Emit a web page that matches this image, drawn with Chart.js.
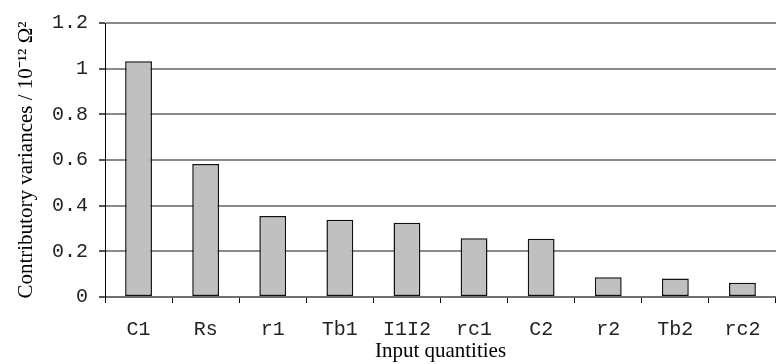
<!DOCTYPE html>
<html>
<head>
<meta charset="utf-8">
<script src="https://cdn.jsdelivr.net/npm/chart.js@4"></script>
<style>
  html, body { margin: 0; padding: 0; background: #fff; }
  #wrap { width: 776px; height: 364px; }
</style>
</head>
<body>
<div id="wrap"><canvas id="barChart"></canvas></div>
<script>
// data
const categories = ['C1', 'Rs', 'r1', 'Tb1', 'I1I2', 'rc1', 'C2', 'r2', 'Tb2', 'rc2'];
const variances = [1.033, 0.583, 0.355, 0.338, 0.325, 0.257, 0.255, 0.087, 0.081, 0.062];
const yTicks = [0, 0.2, 0.4, 0.6, 0.8, 1, 1.2];

const yTitle = 'Contributory variances / 10\u207B\u00B9\u00B2 \u03A9\u00B2';
const xTitle = 'Input quantities';

const monoFont = { family: '"Liberation Mono", "Courier New", monospace', size: 20 };
const serifFont = { family: '"Liberation Serif", "Times New Roman", serif', size: 21 };

//config
const config = {
    type: 'bar',
    data: {
        labels: categories,
        datasets: [{
            data: variances,
            backgroundColor: '#c0c0c0',
            borderColor: '#111',
            borderWidth: 1.5,
            borderSkipped: false,
            categoryPercentage: 1,
            barPercentage: 0.4
        }]
    },
    options: {
        responsive: false,
        animation: false,
        layout: { padding: { top: 22, right: 0, bottom: 0, left: 0 } },
        plugins: { legend: { display: false }, tooltip: { enabled: false } },
        scales: {
            x: {
                grid: {
                    offset: true,
                    drawOnChartArea: false,
                    drawTicks: true,
                    tickLength: 6,
                    tickColor: '#000'
                },
                border: { color: '#707070', width: 2 },
                ticks: { font: monoFont, color: '#222', padding: 15, maxRotation: 0 },
                title: { display: true, text: xTitle, font: serifFont, color: '#000', padding: { top: 0, bottom: 0 } },
                afterFit: (s) => { s.height = 67; }
            },
            y: {
                min: 0,
                max: 1.2,
                afterBuildTicks: (s) => { s.ticks = yTicks.map(v => ({ value: v })); },
                grid: { color: '#8a8a8a', lineWidth: 2, tickLength: 6, tickColor: '#555' },
                border: { color: '#000', width: 1 },
                ticks: { font: monoFont, color: '#222', padding: 11, callback: (v) => String(v) },
                title: { display: true, text: yTitle, font: serifFont, color: '#000', padding: { top: 14, bottom: 0 } },
                afterFit: (s) => { s.width = 105; }
            }
        }
    }
};

const canvas = document.getElementById('barChart');
canvas.width = 776;
canvas.height = 364;
const myChart = new Chart(canvas, config);
</script>
</body>
</html>
